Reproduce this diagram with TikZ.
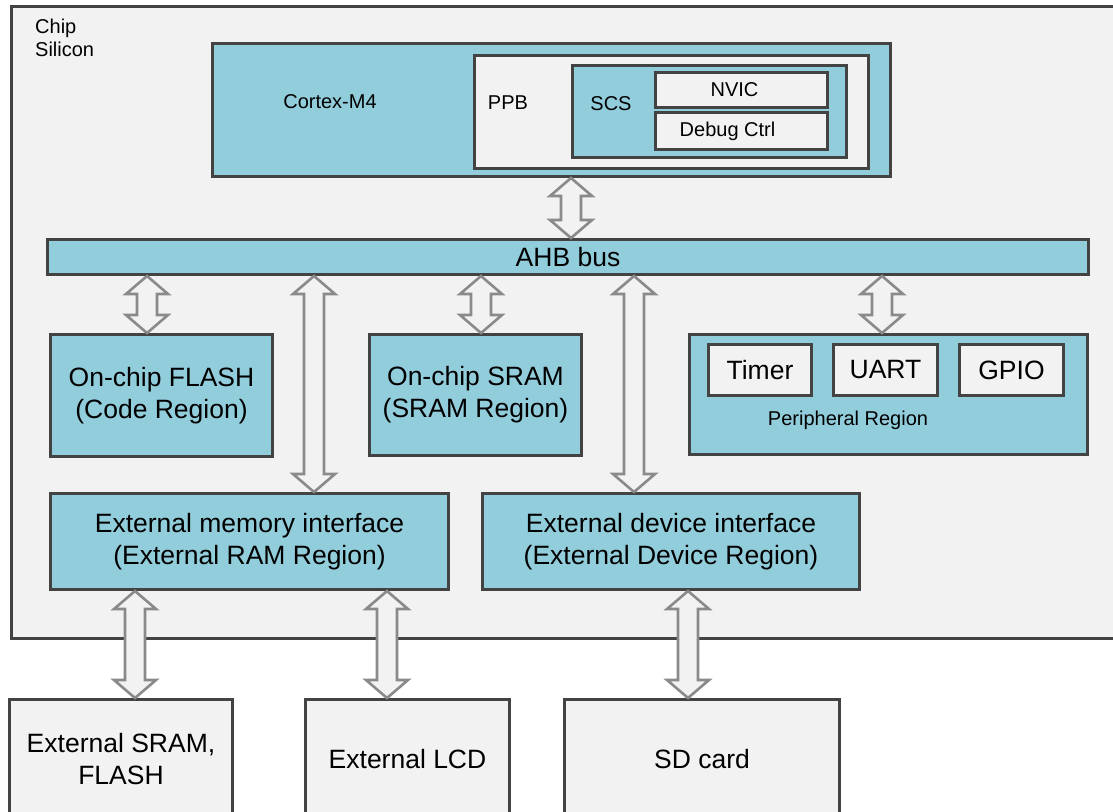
\documentclass[tikz,border=0pt]{standalone}
\usepackage{fontspec}
\setmainfont{Liberation Sans}
\usetikzlibrary{calc}
\definecolor{blu}{HTML}{92CDDC}
\definecolor{bord}{HTML}{434343}
\definecolor{lgray}{HTML}{F2F2F2}
\definecolor{agray}{HTML}{8A8A8A}
\tikzset{
  box/.style={draw=bord, line width=3pt, inner sep=0pt, anchor=north west},
  bluebox/.style={box, fill=blu},
  graybox/.style={box, fill=lgray},
  smalltxt/.style={font=\fontsize{20}{23}\selectfont},
  bigtxt/.style={font=\fontsize{26.5}{32}\selectfont},
  lbl/.style={inner sep=0pt},
  barrow/.style={draw=agray, fill=lgray, line width=2.6pt, line join=miter}
}
% double block arrow: #1 = x position, #2 = upper node, #3 = lower node
\newcommand\dbarrow[3]{%
  \path[barrow] let \p1=(#2.south), \p2=(#3.north), \p3=(#1,0) in
    (\x3,\y1) -- (\x3+21pt,\y1-18pt) -- (\x3+10pt,\y1-18pt) --
    (\x3+10pt,\y2+18pt) -- (\x3+21pt,\y2+18pt) -- (\x3,\y2) --
    (\x3-21pt,\y2+18pt) -- (\x3-10pt,\y2+18pt) -- (\x3-10pt,\y1-18pt) --
    (\x3-21pt,\y1-18pt) -- cycle;}
\begin{document}
\begin{tikzpicture}[x=1pt,y=-1pt]
\useasboundingbox (0,0) rectangle (1113,811);
\clip (0,0) rectangle (1113,811);
\fill[white] (0,0) rectangle (1113,811);

% chip
\node[graybox, minimum width=1130pt, minimum height=632pt] (chip) at (9.5,5) {};
\node[lbl, smalltxt, align=left, anchor=north west] (chiplbl) at (35,19) {Chip\\Silicon};

% Cortex-M4
\node[bluebox, minimum width=678pt, minimum height=133pt] (cortex) at (211,42) {};
\node[lbl, smalltxt] (cortexlbl) at (330,102) {Cortex-M4};
\node[graybox, minimum width=394pt, minimum height=113pt] (ppb) at (473,54) {};
\node[lbl, smalltxt] (ppblbl) at (508,103) {PPB};
\node[bluebox, minimum width=274pt, minimum height=92pt] (scs) at (571,64) {};
\node[lbl, smalltxt] (scslbl) at (611,104) {SCS};
\node[graybox, smalltxt, minimum width=172pt, minimum height=35pt] (nvic) at (654,71) {NVIC\hspace*{14pt}};
\node[graybox, smalltxt, minimum width=172pt, minimum height=37pt] (dbg) at (654,111) {Debug Ctrl\hspace*{28pt}};

% AHB bus
\node[bluebox, bigtxt, minimum width=1041pt, minimum height=35pt] (ahb) at (46,238) {AHB bus};

% on-chip memories
\node[bluebox, bigtxt, align=center, minimum width=222pt, minimum height=122pt] (flash) at (49,333) {On-chip FLASH\\(Code Region)};
\node[bluebox, bigtxt, align=center, minimum width=212pt, minimum height=121pt] (sram) at (368,333) {On-chip SRAM\\(SRAM Region)};

% peripheral region
\node[bluebox, minimum width=398pt, minimum height=120pt] (periph) at (688,333) {};
\node[graybox, bigtxt, minimum width=103pt, minimum height=51pt] (timer) at (707,343) {Timer};
\node[graybox, bigtxt, minimum width=104pt, minimum height=51pt] (uart) at (832,343) {UART};
\node[graybox, bigtxt, minimum width=104pt, minimum height=51pt] (gpio) at (958,343) {GPIO};
\node[lbl, smalltxt] (periphlbl) at (848,420) {Peripheral Region};

% external interfaces
\node[bluebox, bigtxt, align=center, minimum width=398pt, minimum height=96pt] (extmem) at (49,492) {External memory interface\\(External RAM Region)};
\node[bluebox, bigtxt, align=center, minimum width=377pt, minimum height=96pt] (extdev) at (481,492) {External device interface\\(External Device Region)};

% external devices
\node[graybox, bigtxt, align=center, minimum width=223pt, minimum height=120pt] (exsram) at (8,698) {External SRAM,\\FLASH};
\node[graybox, bigtxt, minimum width=204pt, minimum height=120pt] (lcd) at (304,698) {External LCD};
\node[graybox, bigtxt, minimum width=275pt, minimum height=120pt] (sd) at (563,698) {SD card};

% arrows
\dbarrow{571}{cortex}{ahb}
\dbarrow{147}{ahb}{flash}
\dbarrow{314}{ahb}{extmem}
\dbarrow{481}{ahb}{sram}
\dbarrow{634}{ahb}{extdev}
\dbarrow{882}{ahb}{periph}
\dbarrow{135}{extmem}{exsram}
\dbarrow{387}{extmem}{lcd}
\dbarrow{688}{extdev}{sd}
\end{tikzpicture}
\end{document}
